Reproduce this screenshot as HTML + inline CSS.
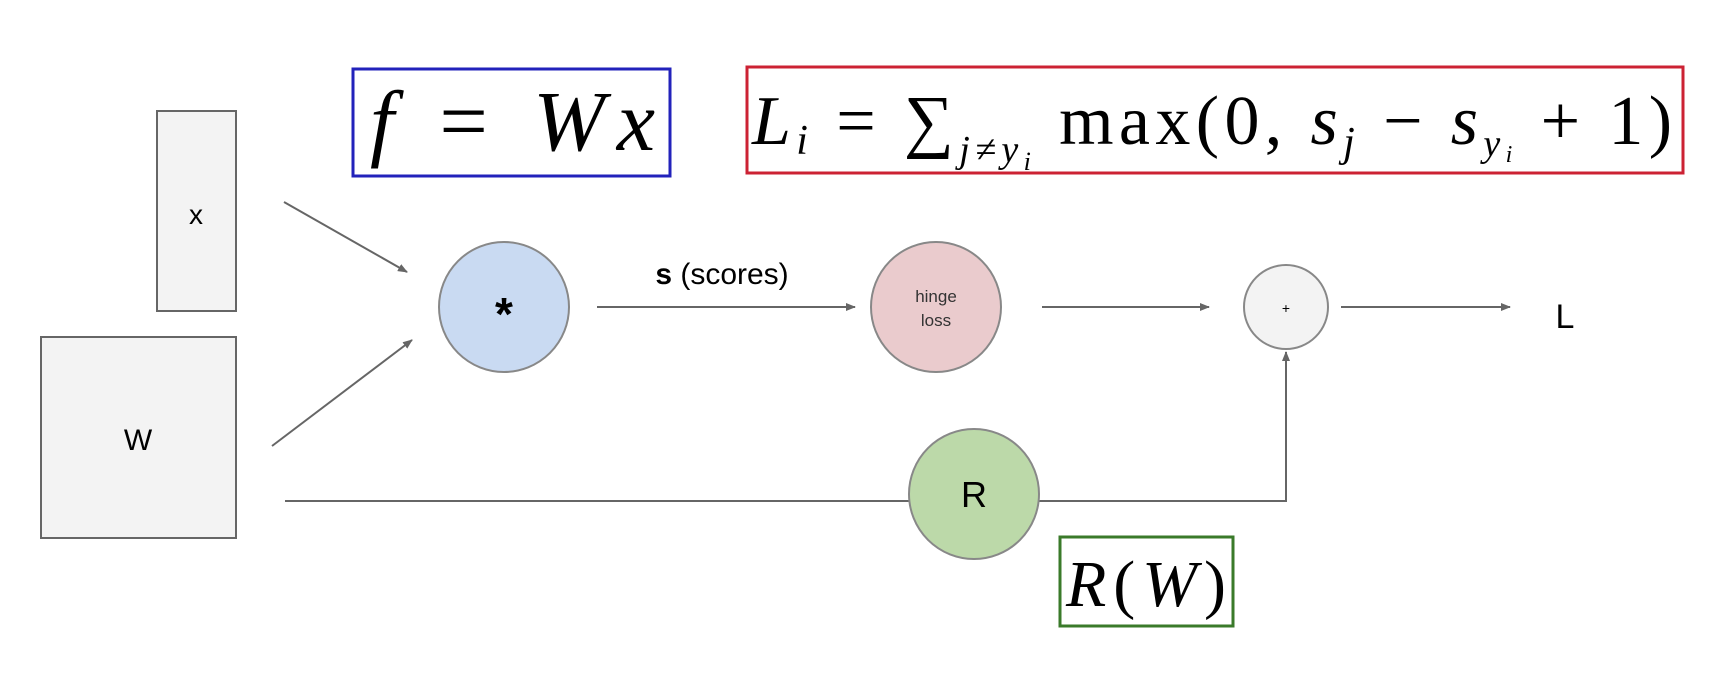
<!DOCTYPE html>
<html><head><meta charset="utf-8"><style>
body{margin:0;background:#fff;}
svg{display:block}
.m{font-family:"Liberation Serif",serif;font-style:italic;}
</style></head><body>
<svg width="1726" height="698" viewBox="0 0 1726 698" xmlns="http://www.w3.org/2000/svg">
<defs><marker id="a" markerWidth="10" markerHeight="8" refX="9" refY="4" orient="auto" markerUnits="userSpaceOnUse"><path d="M0,0 L10,4 L0,8 z" fill="#666"/></marker></defs>
<rect x="157" y="111" width="79" height="200" fill="#f3f3f3" stroke="#666" stroke-width="2"/>
<text x="196" y="224" font-family="Liberation Sans,sans-serif" font-size="28" text-anchor="middle">x</text>
<rect x="41" y="337" width="195" height="201" fill="#f3f3f3" stroke="#666" stroke-width="2"/>
<text x="138" y="450" font-family="Liberation Sans,sans-serif" font-size="30" text-anchor="middle">W</text>
<rect x="353" y="69" width="317" height="107" fill="#fff" stroke="#2222bb" stroke-width="3"/>
<text x="370" y="150" class="m" font-size="86" textLength="285" lengthAdjust="spacing">f <tspan font-style="normal">=</tspan> Wx</text>
<rect x="747" y="67" width="936" height="106" fill="#fff" stroke="#cc2233" stroke-width="3"/>
<text x="752" y="144" class="m" font-size="70" textLength="920" lengthAdjust="spacing">L<tspan font-size="42" dy="10">i</tspan><tspan dy="-10" font-style="normal"> = ∑</tspan><tspan font-size="38" dy="18">j≠y</tspan><tspan font-size="26" dy="8">i</tspan><tspan dy="-26" font-style="normal"> max(0, </tspan>s<tspan font-size="42" dy="12">j</tspan><tspan dy="-12" font-style="normal"> − </tspan>s<tspan font-size="38" dy="12">y</tspan><tspan font-size="24" dy="6">i</tspan><tspan dy="-18" font-style="normal"> + 1)</tspan></text>
<g stroke="#666" stroke-width="2" fill="none">
<line x1="284" y1="202" x2="407" y2="272" marker-end="url(#a)"/>
<line x1="272" y1="446" x2="412" y2="340" marker-end="url(#a)"/>
<line x1="597" y1="307" x2="855" y2="307" marker-end="url(#a)"/>
<line x1="1042" y1="307" x2="1209" y2="307" marker-end="url(#a)"/>
<line x1="1341" y1="307" x2="1510" y2="307" marker-end="url(#a)"/>
<polyline points="285,501 1286,501 1286,352" marker-end="url(#a)"/>
</g>
<circle cx="504" cy="307" r="65" fill="#c9daf2" stroke="#888" stroke-width="2"/>
<text x="504" y="330" font-family="Liberation Sans,sans-serif" font-size="46" text-anchor="middle" font-weight="bold">*</text>
<text x="722" y="284" font-family="Liberation Sans,sans-serif" font-size="30" text-anchor="middle"><tspan font-weight="bold">s</tspan> (scores)</text>
<circle cx="936" cy="307" r="65" fill="#eacbcd" stroke="#888" stroke-width="2"/>
<text x="936" y="302" font-family="Liberation Sans,sans-serif" font-size="17" text-anchor="middle" fill="#333">hinge</text>
<text x="936" y="326" font-family="Liberation Sans,sans-serif" font-size="17" text-anchor="middle" fill="#333">loss</text>
<circle cx="1286" cy="307" r="42" fill="#f3f3f3" stroke="#888" stroke-width="2"/>
<text x="1286" y="313" font-family="Liberation Sans,sans-serif" font-size="14" text-anchor="middle">+</text>
<circle cx="974" cy="494" r="65" fill="#bcd9a9" stroke="#888" stroke-width="2"/>
<text x="974" y="507" font-family="Liberation Sans,sans-serif" font-size="36" text-anchor="middle">R</text>
<text x="1565" y="328" font-family="Liberation Sans,sans-serif" font-size="34" text-anchor="middle">L</text>
<rect x="1060" y="537" width="173" height="89" fill="#fff" stroke="#3a7a2a" stroke-width="3"/>
<text x="1066" y="606" class="m" font-size="66" textLength="160" lengthAdjust="spacing">R<tspan font-style="normal">(</tspan>W<tspan font-style="normal">)</tspan></text>
</svg>
</body></html>
